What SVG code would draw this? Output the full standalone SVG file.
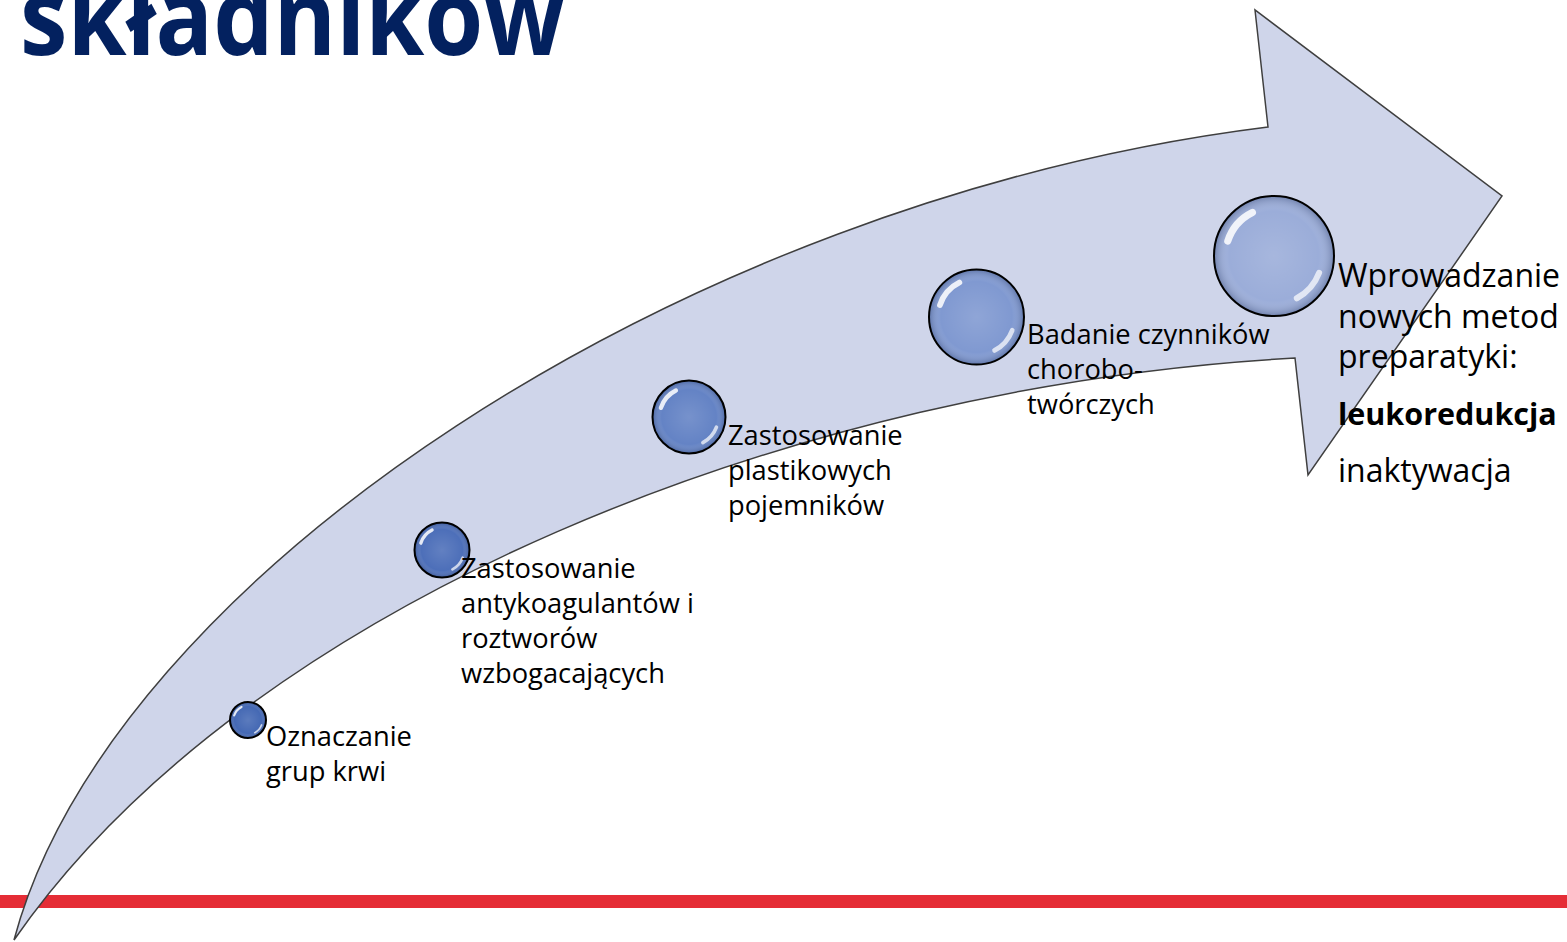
<svg xmlns="http://www.w3.org/2000/svg" xmlns:xlink="http://www.w3.org/1999/xlink" width="1567" height="942" viewBox="0 0 1567 942">
<style>
.lbl{font-family:"Open Sans","Liberation Sans",sans-serif;font-size:27.3px;fill:#000}
.big{font-family:"Open Sans","Liberation Sans",sans-serif;font-size:32px;fill:#000}
.bold{font-weight:bold;font-size:30.5px}
.title{font-family:"Open Sans","Liberation Sans",sans-serif;font-weight:bold;font-size:108px;fill:#03215f}
</style>
<defs>
<radialGradient id="shade" cx="0.5" cy="0.5" r="0.5">
<stop offset="0" stop-color="#ffffff" stop-opacity="0.12"/>
<stop offset="0.75" stop-color="#ffffff" stop-opacity="0"/>
<stop offset="1" stop-color="#10204a" stop-opacity="0.3"/>
</radialGradient>
<g id="bubble">
<circle r="50"/>
<circle r="50" fill="url(#shade)"/>
<path d="M-38.5,-12.5 A40.5,40.5 0 0 1 -18,-36.3" fill="none" stroke="#fff" stroke-width="6" stroke-linecap="round" opacity="0.85"/>
<path d="M37.6,14 A40,40 0 0 1 19,35.2" fill="none" stroke="#fff" stroke-width="5" stroke-linecap="round" opacity="0.7"/>
<circle r="50" fill="none" stroke="#000" stroke-width="2" vector-effect="non-scaling-stroke"/>
</g>
</defs>
<rect width="1567" height="942" fill="#fff"/>
<g id="title"><text class="title" x="20" y="55" textLength="545" lengthAdjust="spacingAndGlyphs">składników</text></g>
<rect id="redline" x="0" y="895" width="1567" height="13" fill="#e52d36"/>
<g id="connectors">
<path id="arrow" d="M14,940 C110,580 680,200 1268,127 L1255,10 L1502,196 L1308,475 L1295,358 C800,385 250,600 14,940 Z" fill="#cfd5ea" stroke="#3f3f3f" stroke-width="1.5" stroke-linejoin="miter"/>
</g>
<g id="node1">
<use xlink:href="#bubble" href="#bubble" transform="translate(248,720) scale(0.36)" fill="#4569b4"/>
<text class="lbl" x="266" y="746">Oznaczanie</text>
<text class="lbl" x="266" y="781">grup krwi</text>
</g>
<g id="node2">
<use xlink:href="#bubble" href="#bubble" transform="translate(442,550) scale(0.55)" fill="#4d6fb9"/>
<text class="lbl" x="461" y="578">Zastosowanie</text>
<text class="lbl" x="461" y="613">antykoagulantów i</text>
<text class="lbl" x="461" y="648">roztworów</text>
<text class="lbl" x="461" y="683">wzbogacających</text>
</g>
<g id="node3">
<use xlink:href="#bubble" href="#bubble" transform="translate(689,417) scale(0.73)" fill="#6483c5"/>
<text class="lbl" x="728" y="445">Zastosowanie</text>
<text class="lbl" x="728" y="480">plastikowych</text>
<text class="lbl" x="728" y="515">pojemników</text>
</g>
<g id="node4">
<use xlink:href="#bubble" href="#bubble" transform="translate(976.5,317) scale(0.95)" fill="#8099d1"/>
<text class="lbl" x="1027" y="344">Badanie czynników</text>
<text class="lbl" x="1027" y="379">chorobo-</text>
<text class="lbl" x="1027" y="414">twórczych</text>
</g>
<g id="node5">
<use xlink:href="#bubble" href="#bubble" transform="translate(1274,256) scale(1.2)" fill="#9badd9"/>
<text class="big" x="1338" y="287">Wprowadzanie</text>
<text class="big" x="1338" y="328">nowych metod</text>
<text class="big" x="1338" y="368">preparatyki:</text>
<text class="big bold" x="1338" y="425">leukoredukcja</text>
<text class="big" x="1338" y="482">inaktywacja</text>
</g>
</svg>
